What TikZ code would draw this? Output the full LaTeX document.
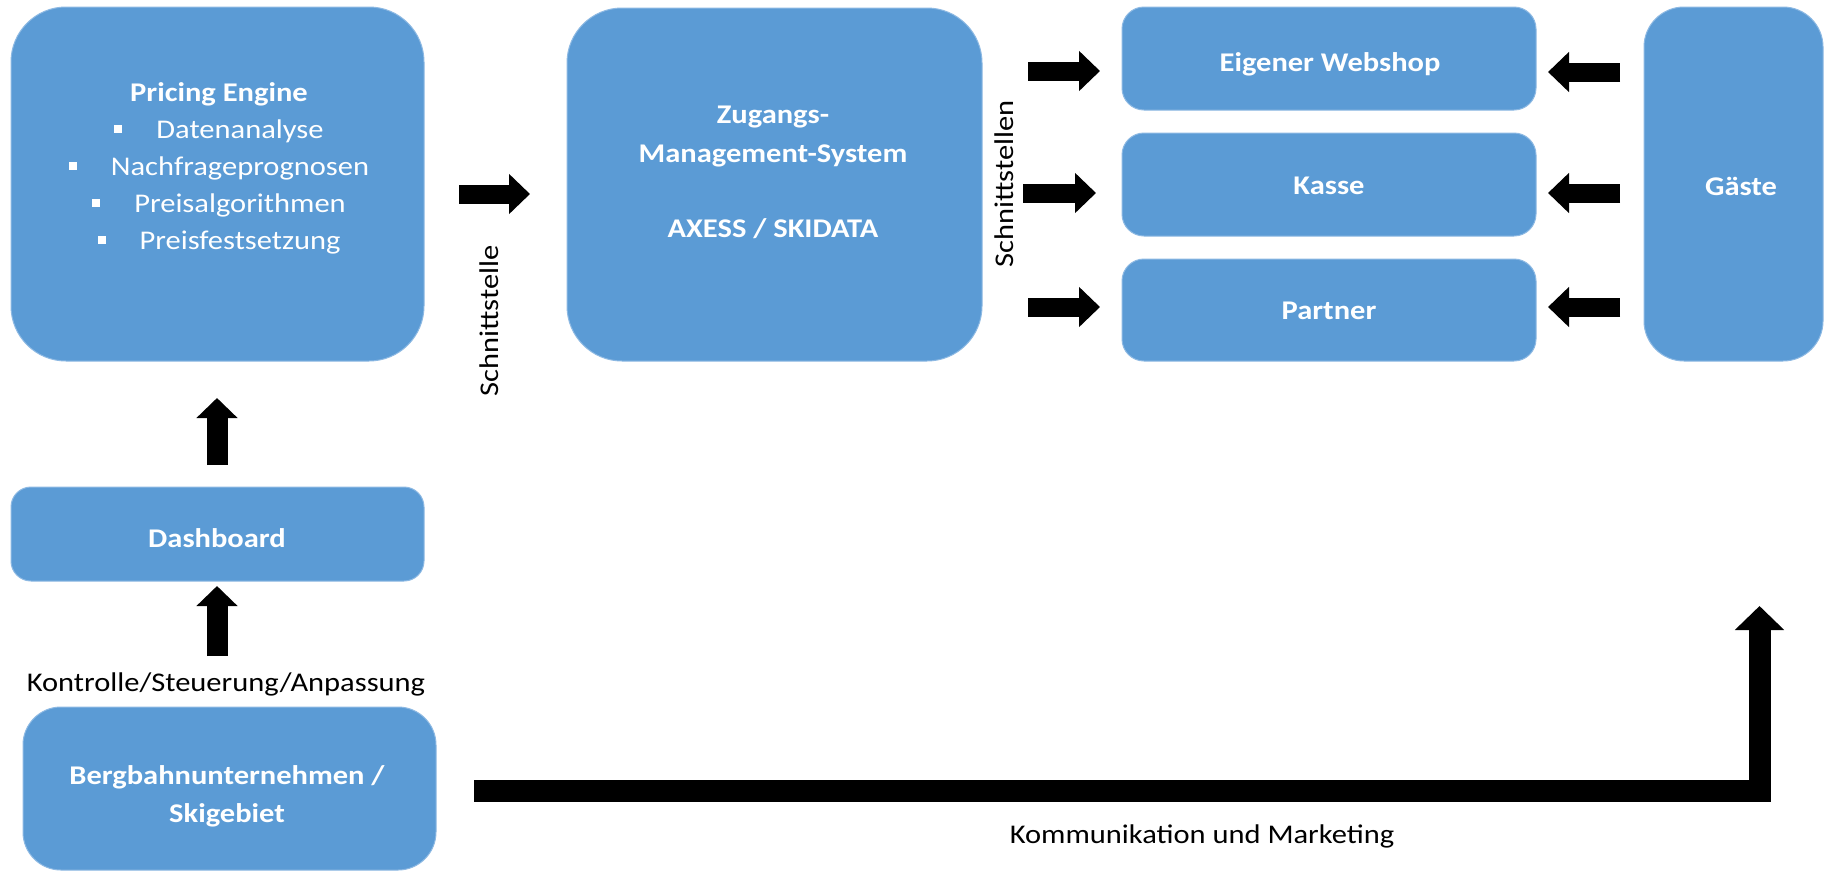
\documentclass[tikz,border=0pt]{standalone}
\usepackage{fontspec}
\setmainfont{Carlito}[FakeStretch=1.13]
\usetikzlibrary{arrows.meta}
\definecolor{boxblue}{HTML}{5B9BD5}
\definecolor{boxedge}{HTML}{8DB9E3}
\newcommand{\blt}{\raisebox{5pt}{\rule{8pt}{8pt}}\hspace{34pt}}
\tikzset{
  box/.style={fill=boxblue, draw=boxedge, line width=1pt, inner sep=0pt, outer sep=0pt},
  lbl/.style={text=white, font=\fontsize{27}{37}\selectfont\bfseries, align=center, inner sep=0pt},
  plain/.style={text=black, font=\fontsize{27}{33}\selectfont, inner sep=0pt},
  barrow/.style={line width=19pt, -{Triangle[width=39pt,length=21pt]}},
  varrow/.style={line width=21pt, -{Triangle[width=40pt,length=20pt]}},
  larrow/.style={line width=22pt, line join=miter, -{Triangle[width=48pt,length=24pt]}}
}
\begin{document}
\begin{tikzpicture}[x=1pt,y=-1pt]
\fill[white] (0,0) rectangle (1835,871);
\useasboundingbox (0,0) rectangle (1835,871);
% boxes
\node[box, minimum width=413pt, minimum height=354pt, rounded corners=55pt] (pe) at (217.5,184) {};
\node[box, minimum width=415pt, minimum height=353pt, rounded corners=55pt] (zms) at (774.5,184.5) {};
\node[box, minimum width=414pt, minimum height=103pt, rounded corners=22pt] (web) at (1329,58.5) {};
\node[box, minimum width=414pt, minimum height=103pt, rounded corners=22pt] (kas) at (1329,184.5) {};
\node[box, minimum width=414pt, minimum height=102pt, rounded corners=22pt] (par) at (1329,310) {};
\node[box, minimum width=179pt, minimum height=354pt, rounded corners=40pt] (gae) at (1733.5,184) {};
\node[box, minimum width=413pt, minimum height=94pt, rounded corners=20pt] (dash) at (217.5,534) {};
\node[box, minimum width=413pt, minimum height=163pt, rounded corners=38pt] (berg) at (229.5,788.5) {};
% labels
\node[lbl] (pel) at (219,168) {Pricing Engine\\ \mdseries\blt Datenanalyse\\ \mdseries\blt Nachfrageprognosen\\ \mdseries\blt Preisalgorithmen\\ \mdseries\blt Preisfestsetzung};
\node[lbl, font=\fontsize{27}{39}\selectfont\bfseries] (zmsl) at (773,172) {Zugangs-\\Management-System\\[36pt]AXESS / SKIDATA};
\node[lbl] (webl) at (1330,64) {Eigener Webshop};
\node[lbl] (kasl) at (1329,186) {Kasse};
\node[lbl] (parl) at (1329,311) {Partner};
\node[lbl] (gael) at (1741,186) {Gäste};
\node[lbl] (dashl) at (217,538) {Dashboard};
\node[lbl, font=\fontsize{27}{38}\selectfont\bfseries] (bergl) at (227,796) {Bergbahnunternehmen /\\Skigebiet};
% plain texts
\node[plain, rotate=90] (s1) at (489,321) {Schnittstelle};
\node[plain, rotate=90] (s2) at (1004,184) {Schnittstellen};
\node[plain] (ksa) at (226,684) {Kontrolle/Steuerung/Anpassung};
\node[plain] (kom) at (1202,836) {Kommunikation und Marketing};
% arrow end points
\coordinate (a0s) at (459,194); \coordinate (a0e) at (530,194);
\coordinate (r1s) at (1028,71);  \coordinate (r1e) at (1100,71);
\coordinate (r2s) at (1023,193); \coordinate (r2e) at (1096,193);
\coordinate (r3s) at (1028,307); \coordinate (r3e) at (1100,307);
\coordinate (l1s) at (1620,72);  \coordinate (l1e) at (1548,72);
\coordinate (l2s) at (1620,193); \coordinate (l2e) at (1548,193);
\coordinate (l3s) at (1620,307); \coordinate (l3e) at (1548,307);
\coordinate (u1s) at (217,465);  \coordinate (u1e) at (217,398);
\coordinate (u2s) at (217,656);  \coordinate (u2e) at (217,586);
\coordinate (bs) at (474,791); \coordinate (bc) at (1759.5,791); \coordinate (be) at (1759.5,606);
% arrows
\draw[barrow] (a0s) -- (a0e);
\draw[barrow] (r1s) -- (r1e);
\draw[barrow] (r2s) -- (r2e);
\draw[barrow] (r3s) -- (r3e);
\draw[barrow] (l1s) -- (l1e);
\draw[barrow] (l2s) -- (l2e);
\draw[barrow] (l3s) -- (l3e);
\draw[varrow] (u1s) -- (u1e);
\draw[varrow] (u2s) -- (u2e);
\draw[larrow] (bs) -- (bc) -- (be);
\end{tikzpicture}
\end{document}
